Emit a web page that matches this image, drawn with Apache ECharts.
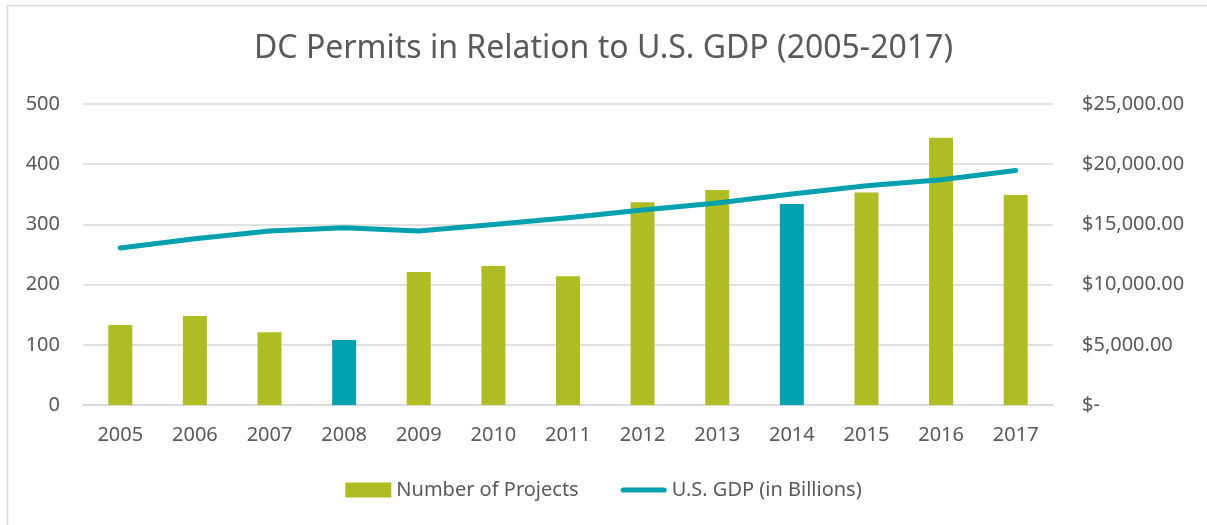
<!DOCTYPE html>
<html>
<head>
<meta charset="utf-8">
<script src="https://cdn.jsdelivr.net/npm/echarts@6/dist/echarts.min.js"></script>
<style>
  html, body { margin: 0; padding: 0; background: #fff; }
  #main { width: 1207px; height: 525px; }
</style>
</head>
<body>
<div id="main"></div>
<script>
// years on the x axis
var years = ['2005', '2006', '2007', '2008', '2009', '2010', '2011',
  '2012', '2013', '2014', '2015', '2016', '2017'];
// number of permitted projects per year
var projects = [133, 148, 121, 108, 221, 231, 214, 337, 357, 334, 353, 444, 349];
// U.S. GDP in billions
var gdp = [13037, 13815, 14452, 14713, 14449, 14992, 15543, 16197, 16785, 17522, 18219, 18707, 19485];
// years whose bar is drawn in teal
var highlight = ['2008', '2014'];

var green = '#AFBD22';
var teal = '#00A0AF';
var textGray = '#595959';
var font = '"Noto Sans", sans-serif';

var chart = echarts.init(document.getElementById('main'), null, { renderer: 'canvas' });

function money(v) {
  if (v === 0) return '$-';
  return '$' + v.toLocaleString('en-US', { minimumFractionDigits: 2, maximumFractionDigits: 2 });
}

var option = {
  backgroundColor: '#fff',
  animation: false,
  textStyle: { fontFamily: font, color: textGray },
  title: {
    text: 'DC Permits in Relation to U.S. GDP (2005-2017)',
    left: 'center',
    top: 28,
    textStyle: { fontFamily: font, fontSize: 32, fontWeight: 'normal', color: textGray }
  },
  graphic: [
    { type: 'line', shape: { x1: 7, y1: 5.5, x2: 1207, y2: 5.5 }, style: { stroke: '#d9d9d9', lineWidth: 1.5 } },
    { type: 'line', shape: { x1: 7.5, y1: 5, x2: 7.5, y2: 525 }, style: { stroke: '#d9d9d9', lineWidth: 1.5 } }
  ],
  legend: {
    bottom: 20,
    left: 'center',
    itemGap: 42,
    itemWidth: 46,
    itemHeight: 15,
    symbolKeepAspect: true,
    textStyle: { fontFamily: font, fontSize: 20, color: textGray },
    data: [
      { name: 'Number of Projects', icon: 'rect', itemStyle: { color: green } },
      { name: 'U.S. GDP (in Billions)', icon: 'path://M3,0 H50 A3,3 0 0 1 50,6 H3 A3,3 0 0 1 3,0 Z', itemStyle: { color: teal } }
    ]
  },
  grid: { left: 83, right: 154, top: 104, bottom: 120 },
  xAxis: {
    type: 'category',
    data: years,
    axisLine: { lineStyle: { color: '#d9d9d9', width: 1.5 } },
    axisTick: { show: false },
    axisLabel: { fontFamily: font, fontSize: 20, color: textGray, margin: 20 }
  },
  yAxis: [
    {
      type: 'value',
      min: 0, max: 500, interval: 100,
      axisLine: { show: false },
      axisTick: { show: false },
      splitLine: { lineStyle: { color: '#d9d9d9', width: 1.5 } },
      axisLabel: { fontFamily: font, fontSize: 20, color: textGray, margin: 23 }
    },
    {
      type: 'value',
      min: 0, max: 25000, interval: 5000,
      axisLine: { show: false },
      axisTick: { show: false },
      splitLine: { show: false },
      axisLabel: {
        fontFamily: font, fontSize: 20, color: textGray, margin: 29,
        formatter: money
      }
    }
  ],
  series: [
    {
      name: 'Number of Projects',
      type: 'bar',
      data: projects,
      barWidth: 24,
      itemStyle: {
        color: function (p) {
          return highlight.indexOf(p.name) >= 0 ? teal : green;
        }
      }
    },
    {
      name: 'U.S. GDP (in Billions)',
      type: 'line',
      yAxisIndex: 1,
      data: gdp,
      symbol: 'none',
      color: teal,
      lineStyle: { color: teal, width: 5, cap: 'round', join: 'round' }
    }
  ]
};

chart.setOption(option);
</script>
</body>
</html>
